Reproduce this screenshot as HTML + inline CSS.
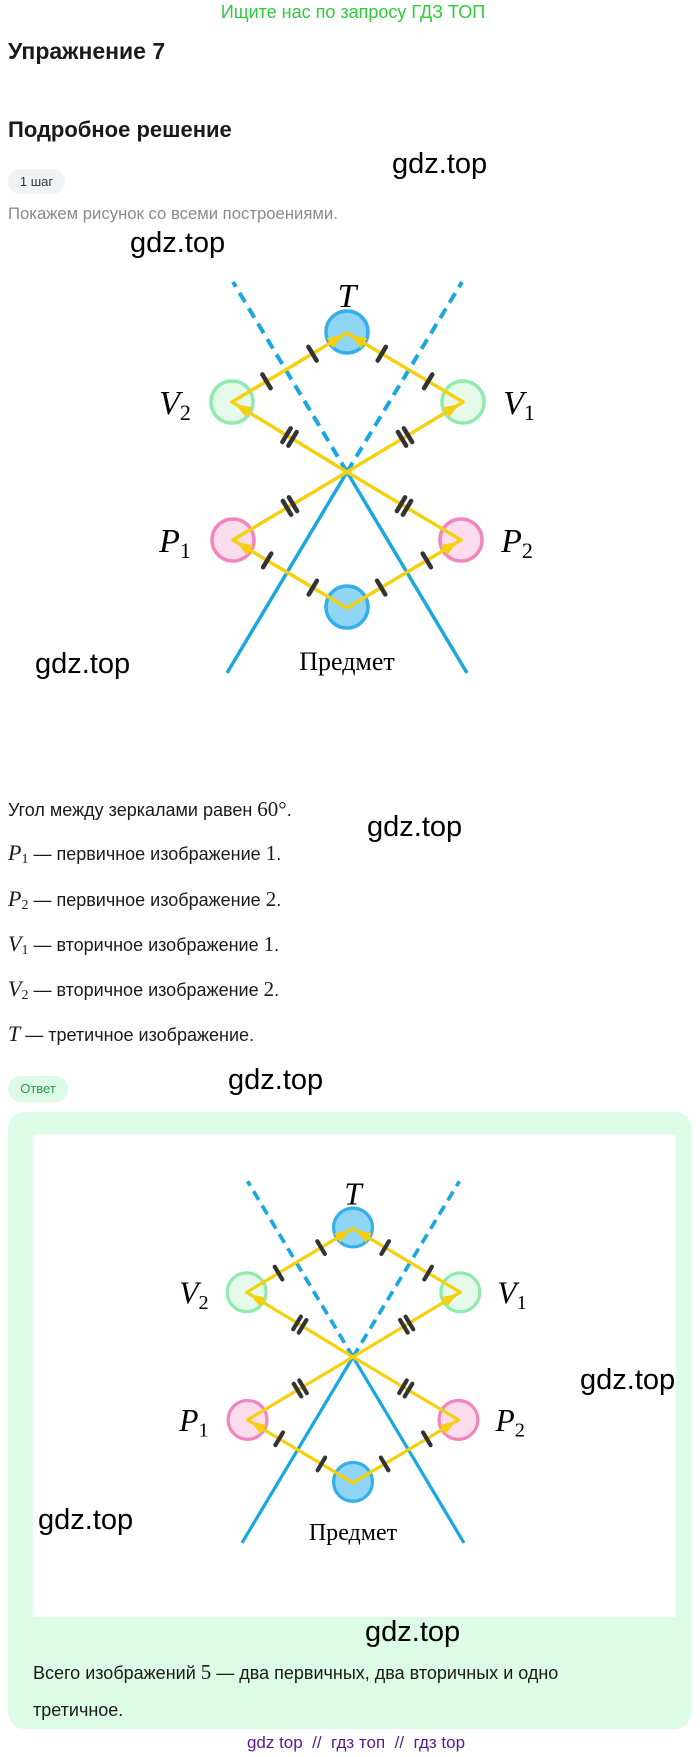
<!DOCTYPE html>
<html><head><meta charset="utf-8"><style>
*{margin:0;padding:0;box-sizing:border-box}
body{width:700px;height:1757px;background:#fff;position:relative;overflow:hidden;font-family:"Liberation Sans",sans-serif;color:#1a1a1a}
.a{position:absolute;white-space:nowrap}
.wm{position:absolute;font-size:29px;color:#000;white-space:nowrap;line-height:1}
.m{font-family:"Liberation Serif",serif;font-size:21px}
.mi{font-family:"Liberation Serif",serif;font-style:italic;font-size:22px}
.mi sub{font-style:normal;font-size:14px;vertical-align:-3px}
.t{font-size:18px;line-height:20px}
</style></head><body>
<div class="a" style="left:0;width:706px;top:2px;text-align:center;color:#2dcc3a;font-size:18px">Ищите нас по запросу ГДЗ ТОП</div>
<div class="a" style="left:8px;top:38px;font-size:23px;font-weight:bold">Упражнение 7</div>
<div class="a" style="left:8px;top:117px;font-size:22px;font-weight:bold">Подробное решение</div>
<div class="a" style="left:8px;top:169px;width:57px;height:25px;border-radius:13px;background:#f1f2f4;font-size:13px;line-height:25px;text-align:center;color:#333">1 шаг</div>
<div class="a" style="left:8px;top:204px;font-size:16.7px;color:#8a8a8a">Покажем рисунок со всеми построениями.</div>

<div class="wm" style="left:392px;top:150px">gdz.top</div>
<div class="wm" style="left:130px;top:229px">gdz.top</div>
<div class="wm" style="left:35px;top:650px">gdz.top</div>
<div class="wm" style="left:367px;top:813px">gdz.top</div>
<div class="wm" style="left:228px;top:1066px">gdz.top</div>

<div class="a t" style="left:8px;top:799px">Угол между зеркалами равен <span class="m">60°</span>.</div>
<div class="a t" style="left:8px;top:843px"><span class="mi">P<sub>1</sub></span> — первичное изображение <span class="m">1</span>.</div>
<div class="a t" style="left:8px;top:889px"><span class="mi">P<sub>2</sub></span> — первичное изображение <span class="m">2</span>.</div>
<div class="a t" style="left:8px;top:934px"><span class="mi">V<sub>1</sub></span> — вторичное изображение <span class="m">1</span>.</div>
<div class="a t" style="left:8px;top:979px"><span class="mi">V<sub>2</sub></span> — вторичное изображение <span class="m">2</span>.</div>
<div class="a t" style="left:8px;top:1024px"><span class="mi">T</span> — третичное изображение.</div>

<div class="a" style="left:8px;top:1076px;width:60px;height:26px;border-radius:13px;background:#dcfbe6;color:#2a9a48;font-size:13px;line-height:26px;text-align:center">Ответ</div>
<div class="a" style="left:8px;top:1112px;width:683px;height:617px;border-radius:16px;background:#dcfce6"></div>
<div class="a" style="left:33px;top:1134px;width:643px;height:483px;background:#fff"></div>
<div class="a t" style="left:33px;top:1662px">Всего изображений <span class="m">5</span> — два первичных, два вторичных и одно</div>
<div class="a t" style="left:33px;top:1700px">третичное.</div>
<div class="wm" style="left:580px;top:1366px">gdz.top</div>
<div class="wm" style="left:38px;top:1506px">gdz.top</div>
<div class="wm" style="left:365px;top:1618px">gdz.top</div>
<div class="a" style="left:0;width:712px;top:1733px;text-align:center;color:#5b1a8c;font-size:17px">gdz top &nbsp;//&nbsp; гдз топ &nbsp;//&nbsp; гдз top</div>

<svg class="a" style="left:0;top:0" width="700" height="1757" id="sv">
<defs>
<g id="dg">
<line x1="0" y1="0" x2="-114" y2="-190" stroke="#1aa7e0" stroke-width="4" stroke-dasharray="11,7"/>
<line x1="0" y1="0" x2="115" y2="-190" stroke="#1aa7e0" stroke-width="4" stroke-dasharray="11,7"/>
<circle cx="0" cy="-140" r="21" fill="#8fd5f6" stroke="#36aeea" stroke-width="3.5"/>
<circle cx="-115" cy="-70" r="21" fill="#e6faec" stroke="#90eaae" stroke-width="3.5"/>
<circle cx="116" cy="-70" r="21" fill="#e6faec" stroke="#90eaae" stroke-width="3.5"/>
<circle cx="-114" cy="68" r="21" fill="#fbdcec" stroke="#f285bd" stroke-width="3.5"/>
<circle cx="114" cy="68" r="21" fill="#fbdcec" stroke="#f285bd" stroke-width="3.5"/>
<circle cx="0" cy="135" r="21" fill="#8fd5f6" stroke="#36aeea" stroke-width="3.5"/>
<line x1="0" y1="0" x2="-120" y2="201" stroke="#1aa7e0" stroke-width="3.5"/>
<line x1="0" y1="0" x2="120" y2="201" stroke="#1aa7e0" stroke-width="3.5"/>
<g id="yl"></g>
<text x="0" y="-165" font-family="Liberation Serif,serif" font-style="italic" font-size="34" text-anchor="middle">T</text>
<text x="-172" y="-58" font-family="Liberation Serif,serif" font-style="italic" font-size="34" text-anchor="middle">V<tspan font-style="normal" font-size="22" dy="6">2</tspan></text>
<text x="172" y="-58" font-family="Liberation Serif,serif" font-style="italic" font-size="34" text-anchor="middle">V<tspan font-style="normal" font-size="22" dy="6">1</tspan></text>
<text x="-172" y="80" font-family="Liberation Serif,serif" font-style="italic" font-size="34" text-anchor="middle">P<tspan font-style="normal" font-size="22" dy="6">1</tspan></text>
<text x="170" y="80" font-family="Liberation Serif,serif" font-style="italic" font-size="34" text-anchor="middle">P<tspan font-style="normal" font-size="22" dy="6">2</tspan></text>
<text x="0" y="198" font-family="Liberation Serif,serif" font-size="26" text-anchor="middle">Предмет</text>
</g>
</defs>
<use href="#dg" transform="translate(347,472)"/>
<use href="#dg" transform="translate(353,1357) scale(0.925)"/>
</svg>
<script>
(function(){
var g=document.getElementById('yl'),s='',Y='#f5d010';
function seg(a,b,arrow,ticks,dbl){
 s+='<line x1="'+a[0]+'" y1="'+a[1]+'" x2="'+b[0]+'" y2="'+b[1]+'" stroke="'+Y+'" stroke-width="3.5" stroke-linecap="round"/>';
 var dx=b[0]-a[0],dy=b[1]-a[1],L=Math.hypot(dx,dy),ux=dx/L,uy=dy/L,px=-uy,py=ux;
 if(arrow){var tx=b[0]-ux*4,ty=b[1]-uy*4,bx=tx-ux*16,by=ty-uy*16;
  s+='<polygon points="'+tx+','+ty+' '+(bx+px*6)+','+(by+py*6)+' '+(bx-px*6)+','+(by-py*6)+'" fill="'+Y+'"/>';}
 ticks.forEach(function(f){var offs=dbl?[-3.5,3.5]:[0];offs.forEach(function(o){
  var cx=a[0]+dx*f+ux*o,cy=a[1]+dy*f+uy*o;
  s+='<line x1="'+(cx+px*8)+'" y1="'+(cy+py*8)+'" x2="'+(cx-px*8)+'" y2="'+(cy-py*8)+'" stroke="#333" stroke-width="4.5" stroke-linecap="round"/>';});});
}
var O=[0,136],P1=[-114,68],P2=[114,68],V1=[116,-70],V2=[-115,-70],T=[0,-139],X=[0,0];
seg(O,P1,1,[0.3,0.7]);seg(O,P2,1,[0.3,0.7]);
seg(P1,X,0,[0.5],1);seg(X,V1,1,[0.5],1);
seg(P2,X,0,[0.5],1);seg(X,V2,1,[0.5],1);
seg(V2,T,1,[0.3,0.7]);seg(V1,T,1,[0.3,0.7]);
g.innerHTML=s;
})();
</script>
</body></html>
